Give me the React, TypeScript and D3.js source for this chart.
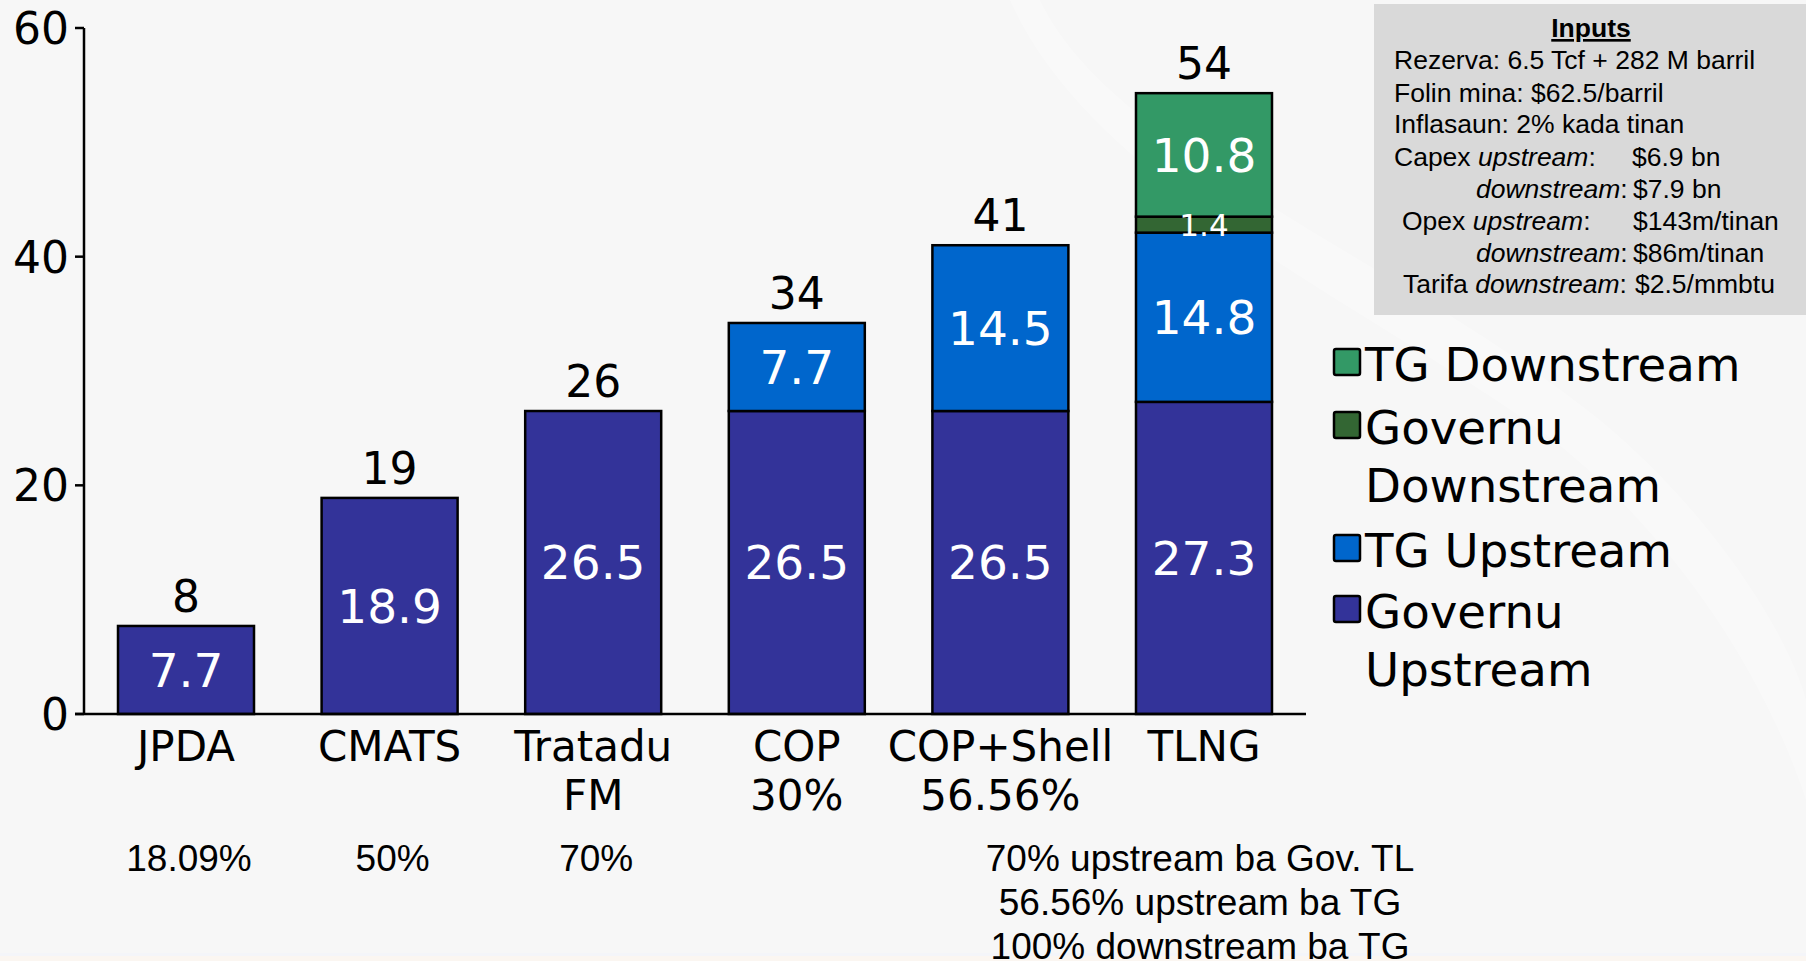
import React from "react"
import * as d3 from "d3"

const categories = ["JPDA", "CMATS", "Tratadu FM", "COP", "COP+Shell", "TLNG"]
const categoryLines = [["JPDA"], ["CMATS"], ["Tratadu", "FM"], ["COP", "30%"], ["COP+Shell", "56.56%"], ["TLNG"]]
const governuUpstream = [7.7, 18.9, 26.5, 26.5, 26.5, 27.3]
const tgUpstream = [0, 0, 0, 7.7, 14.5, 14.8]
const governuDownstream = [0, 0, 0, 0, 0, 1.4]
const tgDownstream = [0, 0, 0, 0, 0, 10.8]
const totalLabels = ["8", "19", "26", "34", "41", "54"]
const shareLabels = ["18.09%", "50%", "70%", "", "", ""]
const yTicks = [0, 20, 40, 60]
const notes = ["70% upstream ba Gov. TL", "56.56% upstream ba TG", "100% downstream ba TG"]

const seriesKeys = ["governuUpstream", "tgUpstream", "governuDownstream", "tgDownstream"]
const seriesColors = {
  governuUpstream: "#333399",
  tgUpstream: "#0066cc",
  governuDownstream: "#336633",
  tgDownstream: "#339966",
}
const legendItems = [
  { key: "tgDownstream", lines: ["TG Downstream"] },
  { key: "governuDownstream", lines: ["Governu", "Downstream"] },
  { key: "tgUpstream", lines: ["TG Upstream"] },
  { key: "governuUpstream", lines: ["Governu", "Upstream"] },
]

const W = 1806
const H = 961
const SANS = "'DejaVu Sans', Verdana, sans-serif"
const ARIAL = "'Liberation Sans', Arial, sans-serif"

export default function App() {
  const rows = categories.map((c, i) => ({
    cat: c,
    governuUpstream: governuUpstream[i],
    tgUpstream: tgUpstream[i],
    governuDownstream: governuDownstream[i],
    tgDownstream: tgDownstream[i],
  }))
  const stacked = d3.stack().keys(seriesKeys)(rows as any)

  const x = d3
    .scaleBand()
    .domain(categories)
    .range([84, 1306])
    .paddingInner(0.332)
    .paddingOuter(0.167)
  const y = d3.scaleLinear().domain([0, 60]).range([714, 28])
  const bw = x.bandwidth()

  // flat list of segments so labels can sit above every rect
  const segments = stacked.flatMap(s =>
    s.map((d, i) => ({ key: s.key, i, y0: d[0], y1: d[1], v: d[1] - d[0] }))
  ).filter(d => d.v > 0)

  return (
    <svg
      width={W}
      height={H}
      style={{ position: "fixed", top: 0, left: 0, display: "block" }}
    >
      <rect width={W} height={H} fill="#f7f7f7" />
      {/* faint background swoosh */}
      <path
        d="M1040,0 C1110,150 1400,260 1600,420 C1720,520 1790,640 1806,700 L1806,800 C1760,660 1660,520 1540,430 C1340,290 1090,180 1010,0 Z"
        fill="#ffffff"
        opacity={0.3}
      />
      <rect x={0} y={953} width={W} height={3} fill="#f4f5f9" />
      <rect x={0} y={956} width={W} height={5} fill="#fbf6f1" />

      {/* bars */}
      {segments.map(d => (
        <rect
          key={`${d.key}-${d.i}`}
          x={x(categories[d.i])}
          y={y(d.y1)}
          width={bw}
          height={y(d.y0) - y(d.y1)}
          fill={seriesColors[d.key]}
          stroke="#000"
          strokeWidth={2.5}
        />
      ))}
      {segments.map(d => {
        const top = y(d.y1)
        const h = y(d.y0) - top
        return (
          <text
            key={`l-${d.key}-${d.i}`}
            x={(x(categories[d.i]) as number) + bw / 2}
            y={top + h / 2}
            dy="0.36em"
            textAnchor="middle"
            fontFamily={SANS}
            fontSize={h < 40 ? 31 : 47}
            fill="#fff"
          >
            {d.v.toFixed(1)}
          </text>
        )
      })}

      {/* totals */}
      {categories.map((c, i) => {
        const total = governuUpstream[i] + tgUpstream[i] + governuDownstream[i] + tgDownstream[i]
        return (
          <text
            key={c}
            x={(x(c) as number) + bw / 2}
            y={y(total) - 14}
            textAnchor="middle"
            fontFamily={SANS}
            fontSize={44}
            fill="#000"
          >
            {totalLabels[i]}
          </text>
        )
      })}

      {/* axes */}
      <line x1={84} x2={84} y1={y(60)} y2={y(0)} stroke="#000" strokeWidth={2.5} />
      <line x1={75} x2={1306} y1={y(0)} y2={y(0)} stroke="#000" strokeWidth={2.5} />
      {yTicks.map(t => (
        <g key={t}>
          <line x1={75} x2={84} y1={y(t)} y2={y(t)} stroke="#000" strokeWidth={2.5} />
          <text
            x={69}
            y={y(t)}
            dy="0.36em"
            textAnchor="end"
            fontFamily={SANS}
            fontSize={44}
            fill="#000"
          >
            {t}
          </text>
        </g>
      ))}

      {/* category labels */}
      {categories.map((c, i) => (
        <text
          key={c}
          x={(x(c) as number) + bw / 2}
          y={761}
          textAnchor="middle"
          fontFamily={SANS}
          fontSize={42}
          fill="#000"
        >
          {categoryLines[i].map((l, j) => (
            <tspan key={j} x={(x(c) as number) + bw / 2} dy={j === 0 ? 0 : 49}>
              {l}
            </tspan>
          ))}
        </text>
      ))}

      {/* share row */}
      {categories.map((c, i) =>
        shareLabels[i] ? (
          <text
            key={c}
            x={(x(c) as number) + bw / 2 + 3}
            y={871}
            textAnchor="middle"
            fontFamily={ARIAL}
            fontSize={37}
            fill="#000"
          >
            {shareLabels[i]}
          </text>
        ) : null
      )}

      {/* notes */}
      {notes.map((n, i) => (
        <text
          key={i}
          x={1200}
          y={871 + i * 44}
          textAnchor="middle"
          fontFamily={ARIAL}
          fontSize={37}
          fill="#000"
        >
          {n}
        </text>
      ))}

      {/* legend */}
      {legendItems.map((it, i) => {
        const base = [381, 444, 567, 628][i]
        return (
          <g key={it.key}>
            <rect
              x={1334}
              y={base - 32}
              width={26}
              height={26}
              rx={2}
              fill={seriesColors[it.key]}
              stroke="#000"
              strokeWidth={2.5}
            />
            <text x={1365} y={base} fontFamily={SANS} fontSize={46.7} fill="#000">
              {it.lines.map((l, j) => (
                <tspan key={j} x={1365} dy={j === 0 ? 0 : 58}>
                  {l}
                </tspan>
              ))}
            </text>
          </g>
        )
      })}

      {/* inputs box */}
      <rect x={1374} y={4} width={432} height={311} fill="#d9d9d9" />
      <g fontFamily={ARIAL} fontSize={26.5} fill="#000">
        <text x={1591} y={37} textAnchor="middle" fontWeight="bold" textDecoration="underline">
          Inputs
        </text>
        <text x={1394} y={69}>Rezerva: 6.5 Tcf + 282 M barril</text>
        <text x={1394} y={102}>Folin mina: $62.5/barril</text>
        <text x={1394} y={133}>Inflasaun: 2% kada tinan</text>
        <text x={1394} y={166}>
          Capex <tspan fontStyle="italic">upstream</tspan>:
        </text>
        <text x={1632} y={166}>$6.9 bn</text>
        <text x={1476} y={198}>
          <tspan fontStyle="italic">downstream</tspan>:
        </text>
        <text x={1633} y={198}>$7.9 bn</text>
        <text x={1402} y={230}>
          Opex <tspan fontStyle="italic">upstream</tspan>:
        </text>
        <text x={1633} y={230}>$143m/tinan</text>
        <text x={1476} y={262}>
          <tspan fontStyle="italic">downstream</tspan>:
        </text>
        <text x={1633} y={262}>$86m/tinan</text>
        <text x={1403} y={293}>
          Tarifa <tspan fontStyle="italic">downstream</tspan>:
        </text>
        <text x={1635} y={293}>$2.5/mmbtu</text>
      </g>
    </svg>
  )
}
